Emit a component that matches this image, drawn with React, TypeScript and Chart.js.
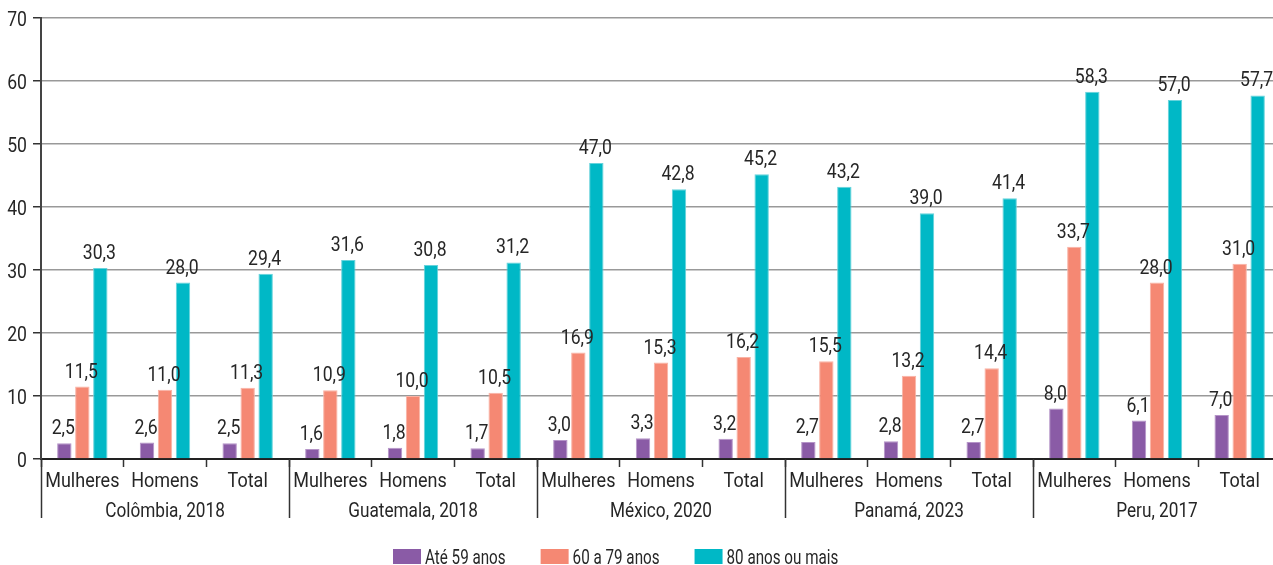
import React, { useEffect, useRef } from 'react';
import { Chart, registerables } from 'chart.js';

Chart.register(...registerables);

const countries = ['Colômbia, 2018', 'Guatemala, 2018', 'México, 2020', 'Panamá, 2023', 'Peru, 2017'];
const groups = ['Mulheres', 'Homens', 'Total'];
const seriesNames = ['Até 59 anos', '60 a 79 anos', '80 anos ou mais'];
const ate59 = [2.5, 2.6, 2.5, 1.6, 1.8, 1.7, 3.0, 3.3, 3.2, 2.7, 2.8, 2.7, 8.0, 6.1, 7.0];
const de60a79 = [11.5, 11.0, 11.3, 10.9, 10.0, 10.5, 16.9, 15.3, 16.2, 15.5, 13.2, 14.4, 33.7, 28.0, 31.0];
const mais80 = [30.3, 28.0, 29.4, 31.6, 30.8, 31.2, 47.0, 42.8, 45.2, 43.2, 39.0, 41.4, 58.3, 57.0, 57.7];
const yTicks = [0, 10, 20, 30, 40, 50, 60, 70];

const colors = ['#8A5BA6', '#F58873', '#00B8C6'];
const borders = ['#B594C8', '#F9B3A5', '#66D3DC'];
const FONT = 'Roboto, "Liberation Sans", sans-serif';
const TEXT = '#262626';

const labels = countries.flatMap((c) => groups.map((g) => `${g}|${c}`));

const fmt = (v: number) => v.toFixed(1).replace('.', ',');

function drawText(ctx: any, text: string, x: number, y: number, align: string, size: number, sx: number) {
  ctx.save();
  ctx.translate(x, y);
  ctx.scale(sx, 1);
  ctx.font = `${size}px ${FONT}`;
  ctx.fillStyle = TEXT;
  ctx.textAlign = align;
  ctx.textBaseline = 'alphabetic';
  ctx.fillText(text, 0, 0);
  const w = ctx.measureText(text).width * sx;
  ctx.restore();
  return w;
}

const NUM_SX = 0.88;
const CAT_SX = 0.9;
const COUNTRY_SX = 0.86;
const LEG_SX = 0.76;

const overlayPlugin = {
  id: 'overlay',
  afterDatasetsDraw(chart: any) {
    const ctx = chart.ctx;
    chart.data.datasets.forEach((ds: any, di: number) => {
      const meta = chart.getDatasetMeta(di);
      meta.data.forEach((bar: any, i: number) => {
        drawText(ctx, fmt(ds.data[i]), bar.x - 1, bar.y - 9, 'center', 20, NUM_SX);
      });
    });
  },
  afterDraw(chart: any) {
    const ctx = chart.ctx;
    const xs = chart.scales.x;
    const ys = chart.scales.y;
    const area = chart.chartArea;
    yTicks.forEach((v) => {
      drawText(ctx, String(v), 27, ys.getPixelForValue(v) + 7.5, 'right', 20, NUM_SX);
    });
    labels.forEach((_l, i) => {
      drawText(ctx, groups[i % 3], xs.getPixelForValue(i), area.bottom + 28, 'center', 20, CAT_SX);
    });
    const n = countries.length;
    const w = (xs.right - xs.left) / n;
    ctx.save();
    ctx.strokeStyle = '#333';
    ctx.lineWidth = 1.5;
    for (let k = 0; k <= n; k++) {
      const x = Math.round(xs.left + k * w) + 0.5;
      ctx.beginPath();
      ctx.moveTo(x, area.bottom);
      ctx.lineTo(x, area.bottom + 59);
      ctx.stroke();
    }
    ctx.restore();
    countries.forEach((c, k) => {
      drawText(ctx, c, xs.left + (k + 0.5) * w, area.bottom + 58, 'center', 20, COUNTRY_SX);
    });
    let lx = 393;
    const ly = 549;
    seriesNames.forEach((s, i) => {
      ctx.save();
      ctx.fillStyle = colors[i];
      ctx.fillRect(lx, ly, 28, 15);
      ctx.restore();
      const tw = drawText(ctx, s, lx + 32, ly + 15, 'left', 20, LEG_SX);
      lx += 32 + tw + 35;
    });
  },
};

export default function App() {
  const ref = useRef<HTMLCanvasElement>(null);
  useEffect(() => {
    if (!ref.current) return;
    const chart = new Chart(ref.current, {
      type: 'bar',
      data: {
        labels,
        datasets: [ate59, de60a79, mais80].map((d, i) => ({
          label: seriesNames[i],
          data: d,
          backgroundColor: colors[i],
          borderColor: borders[i],
          borderWidth: 1,
          categoryPercentage: 0.653,
          barPercentage: 0.8,
        })),
      },
      options: {
        animation: false,
        responsive: false,
        layout: { padding: { top: 18, right: 9, left: 0, bottom: 0 } },
        plugins: { legend: { display: false }, tooltip: { enabled: false } },
        scales: {
          x: {
            offset: true,
            grid: {
              offset: true,
              drawOnChartArea: false,
              drawTicks: true,
              tickLength: 8,
              tickColor: '#333',
              tickWidth: 1.5,
            },
            border: { display: true, color: '#222', width: 2 },
            ticks: { display: false, autoSkip: false },
            afterFit: (s: any) => {
              s.height = 106;
            },
          },
          y: {
            min: 0,
            max: 70,
            afterBuildTicks: (s: any) => {
              s.ticks = yTicks.map((v) => ({ value: v }));
            },
            grid: {
              color: '#999',
              lineWidth: 1.5,
              borderDash: [7, 5],
              tickLength: 8,
              tickColor: '#333',
              tickWidth: 1.5,
              tickBorderDash: [],
            },
            border: { display: true, color: '#444', width: 2 },
            ticks: { display: false },
            afterFit: (s: any) => {
              s.width = 41;
            },
          },
        },
      },
      plugins: [overlayPlugin],
    });
    return () => chart.destroy();
  }, []);
  return (
    <div style={{ position: 'fixed', left: 0, top: 0, width: 1273, height: 565, overflow: 'hidden', background: '#fff' }}>
      <canvas ref={ref} width={1290} height={565} style={{ display: 'block' }} />
    </div>
  );
}
